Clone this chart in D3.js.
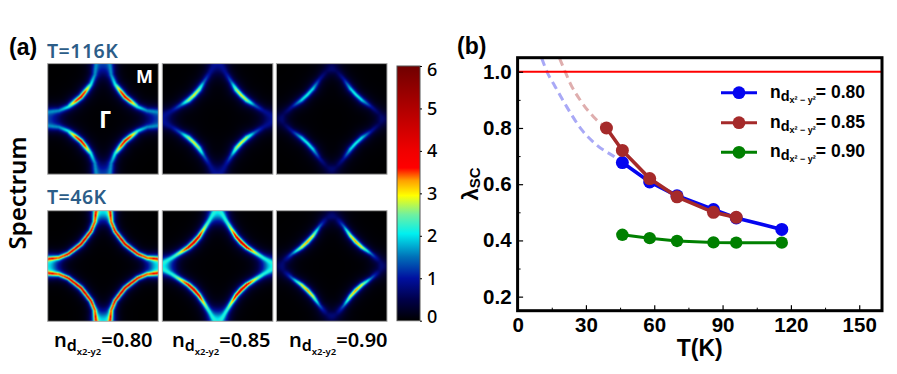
<!DOCTYPE html>
<html>
<head>
<meta charset="utf-8">
<script src="https://cdn.jsdelivr.net/npm/d3@7"></script>
<style>
  html, body { margin: 0; padding: 0; background: #fff; }
  svg { display: block; }
  .sans { font-family: "Noto Sans", sans-serif; }
  .bold { font-family: "Liberation Sans", Arial, sans-serif; font-weight: 700; }
</style>
</head>
<body>
<svg id="fig" width="897" height="374"></svg>
<script>
"use strict";

/* ── Panel (b): lambda_SC vs T ─────────────────────────── */
const temps80 = [46, 58, 70, 86, 96, 116];
const lambda80 = [0.677, 0.608, 0.559, 0.51, 0.48, 0.439];
const temps85 = [39, 46, 58, 70, 86, 96];
const lambda85 = [0.80, 0.72, 0.62, 0.555, 0.50, 0.482];
const temps90 = [46, 58, 70, 86, 96, 116];
const lambda90 = [0.42, 0.408, 0.398, 0.393, 0.392, 0.392];

const dashT80 = [46, 43.5, 34.8, 28.2, 21.6, 16.5, 12.9, 10.6];
const dashL80 = [0.677, 0.692, 0.739, 0.793, 0.875, 0.947, 1.0, 1.048];
const dashT85 = [39, 33.3, 27.5, 23.1, 20.9, 18.4];
const dashL85 = [0.80, 0.84, 0.899, 0.959, 1.0, 1.048];

const xTicks = [0, 30, 60, 90, 120, 150];
const xMinor = [15, 45, 75, 105, 135];
const yTicks = [0.2, 0.4, 0.6, 0.8, 1.0];
const yMinor = [0.3, 0.5, 0.7, 0.9];
const legendValues = ["0.80", "0.85", "0.90"];

/* ── Panel (a): spectrum ridge, diagonal → zone edge
      a,b = distance from the left / top edge in half-panel units ─────── */
const ridge80a = [0.60, 0.68, 0.78, 0.85, 0.87];
const ridge80b = [0.60, 0.50, 0.37, 0.20, 0.00];
const ridge85a = [0.57, 0.66, 0.75, 0.85, 0.93];
const ridge85b = [0.57, 0.47, 0.33, 0.17, 0.02];
const ridge90a = [0.56, 0.66, 0.78, 0.90, 1.00];
const ridge90b = [0.56, 0.45, 0.28, 0.14, 0.08];

const peak116 = [[4.2, 3.6, 2.2, 1.5, 1.1], [3.0, 2.7, 1.5, 0.8, 0.45], [2.2, 2.0, 0.95, 0.4, 0.3]];
const width116 = [[0.04, 0.045, 0.05, 0.06, 0.07], [0.045, 0.05, 0.055, 0.07, 0.10], [0.045, 0.05, 0.055, 0.08, 0.12]];
const peak46 = [[4.6, 4.6, 4.3, 3.4, 3.0], [4.6, 4.2, 3.0, 1.9, 0.8], [3.4, 3.0, 1.5, 0.5, 0.3]];
const width46 = [[0.035, 0.035, 0.035, 0.04, 0.045], [0.04, 0.04, 0.045, 0.055, 0.06], [0.04, 0.04, 0.045, 0.08, 0.12]];
const edgeGlow116 = [0.8, 0.35, 0.1];
const edgeGlow46 = [1.5, 1.5, 0.1];

const titles = ["T=116K", "T=46K"];
const dopingLabels = ["0.80", "0.85", "0.90"];

/* colorbar */
const cbarValues = [0, 0.5, 1, 1.5, 2.05, 2.5, 2.95, 3.3, 3.6, 4, 5, 6];
const cbarColors = ["#000000", "#00004a", "#0010a0", "#0070b8", "#00f0f0", "#70f0a0", "#ffff00", "#ffa000", "#ff0000", "#f00000", "#b00000", "#700000"];
const cbarTicks = [0, 1, 2, 3, 4, 5, 6];

/* ── Layout ────────────────────────────────────────────── */
const PANEL = 110.6;
const panelX = [47.7, 162.3, 276.4];
const panelY = [63.6, 210.7];
const dopingX = [54, 172, 289];
const CBAR = { left: 397, right: 420, top: 66, bottom: 320.7 };
const MARGIN = { left: 517.6, right: 882, top: 57.7, bottom: 310.7 };

const svg = d3.select("#fig");
const color = d3.scaleLinear().domain(cbarValues).range(cbarColors).clamp(true);

/* ── Spectrum map → image ───────────────────────────────── */
function ridgeSamples(as, bs, peak, width) {
  const half = [];
  for (let i = 0; i < as.length - 1; i++) {
    for (let s = 0; s < 8; s++) {
      const t = s / 8;
      half.push({
        a: as[i] + (as[i + 1] - as[i]) * t,
        b: bs[i] + (bs[i + 1] - bs[i]) * t,
        p: peak[i] + (peak[i + 1] - peak[i]) * t,
        w: width[i] + (width[i + 1] - width[i]) * t,
      });
    }
  }
  const last = as.length - 1;
  half.push({ a: as[last], b: bs[last], p: peak[last], w: width[last] });
  return half.concat(half.map((d) => ({ a: d.b, b: d.a, p: d.p, w: d.w })));
}

function ridgeValue(samples, a, b) {
  let best = 0;
  for (const s of samples) {
    const x = Math.hypot(a - s.a, b - s.b) / s.w;
    const core = Math.pow(1 + x * x, -1.5);
    const halo = Math.pow(1 + x * x / 6.25, -1.5);
    const v = s.p * (0.8 * core + 0.2 * halo);
    if (v > best) best = v;
  }
  return best;
}

function spectrumImage(as, bs, peak, width, glow) {
  const n = 221;
  const mid = (n - 1) / 2;
  const k = d3.scaleLinear().domain([0, n - 1]).range([-1, 1]);
  const canvas = document.createElement("canvas");
  canvas.width = n;
  canvas.height = n;
  const ctx = canvas.getContext("2d");
  const img = ctx.createImageData(n, n);
  const samples = ridgeSamples(as, bs, peak, width);
  /* one quadrant is enough, the map has the lattice symmetry */
  for (let j = 0; j <= mid; j++) {
    for (let i = 0; i <= mid; i++) {
      const a = 1 - Math.abs(k(i));
      const b = 1 - Math.abs(k(j));
      let v = ridgeValue(samples, a, b)
            + ridgeValue(samples, 2 - a, b)
            + ridgeValue(samples, a, 2 - b);
      v += glow * Math.exp(-Math.pow((1 - a) / 0.17, 2) - Math.pow(b / 0.2, 2));
      v += glow * Math.exp(-Math.pow((1 - b) / 0.17, 2) - Math.pow(a / 0.2, 2));
      const c = d3.rgb(color(v));
      for (const [ii, jj] of [[i, j], [n - 1 - i, j], [i, n - 1 - j], [n - 1 - i, n - 1 - j]]) {
        const o = (jj * n + ii) * 4;
        img.data[o] = c.r;
        img.data[o + 1] = c.g;
        img.data[o + 2] = c.b;
        img.data[o + 3] = 255;
      }
    }
  }
  ctx.putImageData(img, 0, 0);
  return canvas.toDataURL();
}

const ridgesA = [ridge80a, ridge85a, ridge90a];
const ridgesB = [ridge80b, ridge85b, ridge90b];
const rows = [
  { peak: peak116, width: width116, glow: edgeGlow116 },
  { peak: peak46, width: width46, glow: edgeGlow46 },
];

rows.forEach((row, r) => {
  panelX.forEach((px, c) => {
    svg.append("image")
      .attr("x", px).attr("y", panelY[r])
      .attr("width", PANEL).attr("height", PANEL)
      .attr("preserveAspectRatio", "none")
      .attr("href", spectrumImage(ridgesA[c], ridgesB[c], row.peak[c], row.width[c], row.glow[c]));
    svg.append("rect")
      .attr("x", px).attr("y", panelY[r])
      .attr("width", PANEL).attr("height", PANEL)
      .attr("fill", "none").attr("stroke", "#a8a8a8").attr("stroke-width", 1);
  });
});

/* titles and labels of (a) */
svg.append("text").attr("class", "bold").attr("x", 9).attr("y", 55)
  .attr("font-size", 23).text("(a)");
svg.selectAll(".row-title").data(titles).enter().append("text")
  .attr("class", "sans row-title")
  .attr("x", 47).attr("y", (d, i) => [58, 204][i])
  .attr("font-size", 19.5).attr("font-weight", 600).attr("letter-spacing", 0.5).attr("fill", "#2c5d88")
  .text((d) => d);
svg.append("text").attr("class", "sans").attr("x", 136).attr("y", 83)
  .attr("font-size", 18).attr("font-weight", 700).attr("fill", "#fff").text("M");
svg.append("text").attr("class", "sans").attr("x", 99).attr("y", 128)
  .attr("font-size", 24).attr("font-weight", 700).attr("fill", "#fff").text("Γ");
svg.append("text").attr("class", "sans")
  .attr("transform", "translate(26,193) rotate(-90)")
  .attr("text-anchor", "middle").attr("font-size", 24).attr("font-weight", 600)
  .text("Spectrum");

const dopingText = svg.selectAll(".doping").data(dopingLabels).enter().append("text")
  .attr("class", "sans doping")
  .attr("x", (d, i) => dopingX[i]).attr("y", 347)
  .attr("font-weight", 600).attr("font-size", 20);
dopingText.append("tspan").text("n");
dopingText.append("tspan").attr("dy", 4).attr("font-size", 16).text("d");
dopingText.append("tspan").attr("dy", 4).attr("font-size", 9.5).text("x2-y2");
dopingText.append("tspan").attr("dy", -8).text((d) => "=" + d);

/* ── Colorbar ──────────────────────────────────────────── */
const cbarY = d3.scaleLinear().domain([0, 6]).range([CBAR.bottom, CBAR.top]);
const grad = svg.append("defs").append("linearGradient")
  .attr("id", "cbar").attr("x1", 0).attr("x2", 0).attr("y1", 1).attr("y2", 0);
grad.selectAll("stop").data(cbarValues).enter().append("stop")
  .attr("offset", (d) => d / 6)
  .attr("stop-color", (d, i) => cbarColors[i]);
svg.append("rect")
  .attr("x", CBAR.left).attr("y", CBAR.top)
  .attr("width", CBAR.right - CBAR.left).attr("height", CBAR.bottom - CBAR.top)
  .attr("fill", "url(#cbar)").attr("stroke", "#555").attr("stroke-width", 1);
const cbarAxis = svg.append("g")
  .attr("transform", `translate(${CBAR.right},0)`)
  .call(d3.axisRight(cbarY).tickValues(cbarTicks).tickSize(2).tickPadding(5).tickFormat(d3.format("d")));
cbarAxis.select(".domain").remove();
cbarAxis.selectAll("text")
  .attr("class", "sans").attr("font-size", 18).attr("font-weight", 500).attr("fill", "#000")
  .attr("dy", (d) => (d === 0 ? "0.1em" : d === 6 ? "0.55em" : "0.32em"));

/* ── Panel (b) ─────────────────────────────────────────── */
const x = d3.scaleLinear().domain([0, 160]).range([MARGIN.left, MARGIN.right]);
const y = d3.scaleLinear().domain([0.15, 1.05]).range([MARGIN.bottom, MARGIN.top]);
const clipId = "plot-clip";
svg.append("clipPath").attr("id", clipId).append("rect")
  .attr("x", MARGIN.left).attr("y", MARGIN.top)
  .attr("width", MARGIN.right - MARGIN.left).attr("height", MARGIN.bottom - MARGIN.top);

const line = d3.line().x((d) => x(d[0])).y((d) => y(d[1]));
const smooth = d3.line().x((d) => x(d[0])).y((d) => y(d[1])).curve(d3.curveMonotoneX);
const plot = svg.append("g").attr("clip-path", `url(#${clipId})`);

plot.append("path").datum(d3.zip(dashT80, dashL80).sort((p, q) => p[0] - q[0]))
  .attr("d", smooth).attr("fill", "none").attr("stroke", "#a9a9f6")
  .attr("stroke-width", 3).attr("stroke-dasharray", "8,5");
plot.append("path").datum(d3.zip(dashT85, dashL85).sort((p, q) => p[0] - q[0]))
  .attr("d", smooth).attr("fill", "none").attr("stroke", "#dfaeae")
  .attr("stroke-width", 3).attr("stroke-dasharray", "8,5");

plot.append("line")
  .attr("x1", x(0)).attr("x2", x(160)).attr("y1", y(1)).attr("y2", y(1))
  .attr("stroke", "#ff0000").attr("stroke-width", 2);

const series = [
  { t: temps80, l: lambda80, c: "#0505f0", r: 6.5, w: 3.6 },
  { t: temps85, l: lambda85, c: "#a52a2a", r: 6.5, w: 3.6 },
  { t: temps90, l: lambda90, c: "#008000", r: 6.2, w: 3.0 },
];
series.forEach((s) => {
  const pts = d3.zip(s.t, s.l);
  plot.append("path").datum(pts).attr("d", line)
    .attr("fill", "none").attr("stroke", s.c).attr("stroke-width", s.w);
  plot.selectAll(null).data(pts).enter().append("circle")
    .attr("cx", (d) => x(d[0])).attr("cy", (d) => y(d[1]))
    .attr("r", s.r).attr("fill", s.c);
});

/* axes (ticks point inward) */
function styleAxis(g, size) {
  g.select(".domain").remove();
  g.selectAll("line").attr("stroke", "#000").attr("stroke-width", size);
  g.selectAll("text").attr("class", "bold").attr("font-size", 20.5).attr("fill", "#000");
}
svg.append("g").attr("transform", `translate(0,${MARGIN.bottom})`)
  .call(d3.axisBottom(x).tickValues(xTicks).tickSize(-5.5).tickPadding(7).tickFormat(d3.format("d")))
  .call(styleAxis, 1.2);
svg.append("g").attr("transform", `translate(0,${MARGIN.bottom})`)
  .call(d3.axisBottom(x).tickValues(xMinor).tickSize(-3).tickFormat(""))
  .call(styleAxis, 1);
svg.append("g").attr("transform", `translate(${MARGIN.left},0)`)
  .call(d3.axisLeft(y).tickValues(yTicks).tickSize(-5.5).tickPadding(6).tickFormat(d3.format(".1f")))
  .call(styleAxis, 1.2);
svg.append("g").attr("transform", `translate(${MARGIN.left},0)`)
  .call(d3.axisLeft(y).tickValues(yMinor).tickSize(-3).tickFormat(""))
  .call(styleAxis, 1);

svg.append("rect")
  .attr("x", MARGIN.left).attr("y", MARGIN.top)
  .attr("width", MARGIN.right - MARGIN.left).attr("height", MARGIN.bottom - MARGIN.top)
  .attr("fill", "none").attr("stroke", "#000").attr("stroke-width", 3);

svg.append("text").attr("class", "bold").attr("x", 457).attr("y", 54)
  .attr("font-size", 23).text("(b)");
svg.append("text").attr("class", "bold").attr("x", x(80)).attr("y", 356)
  .attr("text-anchor", "middle").attr("font-size", 23).text("T(K)");
const yLabel = svg.append("text").attr("class", "bold")
  .attr("transform", "translate(478,184) rotate(-90)")
  .attr("text-anchor", "middle").attr("font-size", 22);
yLabel.append("tspan").text("λ");
yLabel.append("tspan").attr("font-size", 15).attr("dy", 2).text("SC");

/* legend */
const legendY = [92.7, 122.7, 152.3];
const legend = svg.selectAll(".legend").data(series).enter().append("g")
  .attr("class", "legend")
  .attr("transform", (d, i) => `translate(0,${legendY[i]})`);
legend.append("line").attr("x1", 721).attr("x2", 757)
  .attr("stroke", (d) => d.c).attr("stroke-width", 3);
legend.append("circle").attr("cx", 739).attr("r", 6.4).attr("fill", (d) => d.c);
const legendText = legend.append("text").attr("class", "bold")
  .attr("x", 770).attr("y", 5).attr("font-size", 17.5);
legendText.append("tspan").text("n");
legendText.append("tspan").attr("dy", 3).attr("font-size", 14.5).text("d");
legendText.append("tspan").attr("dy", 2).attr("font-size", 9).text("x² − y²");
legendText.append("tspan").attr("dy", -5).text((d, i) => "= " + legendValues[i]);
</script>
</body>
</html>
